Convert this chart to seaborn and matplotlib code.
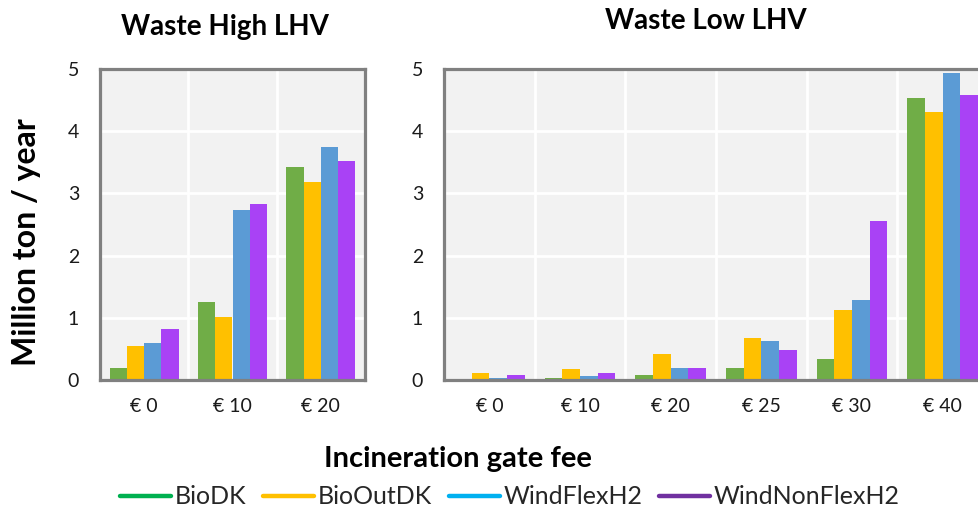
import numpy as np
import pandas as pd
import matplotlib
matplotlib.use("Agg")
import matplotlib.pyplot as plt
from matplotlib.lines import Line2D
from matplotlib.ticker import FixedLocator
import seaborn as sns

# ---------------- data ----------------
scenarios = ["BioDK", "BioOutDK", "WindFlexH2", "WindNonFlexH2"]

high_fees = ["€ 0", "€ 10", "€ 20"]
high_biodk = [0.20, 1.26, 3.42]
high_biooutdk = [0.55, 1.01, 3.18]
high_windflex = [0.60, 2.73, 3.74]
high_windnonflex = [0.82, 2.83, 3.52]

low_fees = ["€ 0", "€ 10", "€ 20", "€ 25", "€ 30", "€ 40"]
low_biodk = [0.00, 0.03, 0.08, 0.20, 0.33, 4.53]
low_biooutdk = [0.11, 0.18, 0.42, 0.68, 1.12, 4.31]
low_windflex = [0.03, 0.06, 0.20, 0.63, 1.29, 4.93]
low_windnonflex = [0.08, 0.11, 0.20, 0.48, 2.56, 4.59]

yticks = [0, 1, 2, 3, 4, 5]

bar_colors = ["#70AD47", "#FFC000", "#5B9BD5", "#A942F5"]
legend_colors = ["#00B050", "#FFC000", "#00B0F0", "#7030A0"]


def long_df(fees, series):
    rows = []
    for name, vals in zip(scenarios, series):
        for f, v in zip(fees, vals):
            rows.append({"fee": f, "scenario": name, "value": v})
    return pd.DataFrame(rows)


df_high = long_df(high_fees, [high_biodk, high_biooutdk, high_windflex, high_windnonflex])
df_low = long_df(low_fees, [low_biodk, low_biooutdk, low_windflex, low_windnonflex])

sns.set_theme(style="white")
plt.rcParams["font.family"] = ["Lato", "DejaVu Sans"]

W, H = 979, 513
fig = plt.figure(figsize=(W / 100, H / 100), dpi=100)


def px_axes(x0, x1, ytop, ybot):
    return fig.add_axes([x0 / W, (H - ybot) / H, (x1 - x0) / W, (ybot - ytop) / H])


ax1 = px_axes(100, 365, 69, 380)
ax2 = px_axes(444, 988, 69, 380)

for ax, df, fees in [(ax1, df_high, high_fees), (ax2, df_low, low_fees)]:
    sns.barplot(data=df, x="fee", y="value", hue="scenario", hue_order=scenarios,
                order=fees, palette=bar_colors, width=0.78, ax=ax, legend=False,
                edgecolor="none", linewidth=0, saturation=1)
    ax.set_facecolor("#F2F2F2")
    ax.set_ylim(0, 5)
    ax.set_xlim(-0.5, len(fees) - 0.5)
    ax.set_yticks(yticks)
    ax.set_yticklabels([str(t) for t in yticks])
    ax.xaxis.set_minor_locator(FixedLocator(np.arange(0.5, len(fees) - 0.5, 1.0)))
    ax.grid(True, axis="y", which="major", color="white", linewidth=2.0)
    ax.grid(True, axis="x", which="minor", color="white", linewidth=2.0)
    ax.grid(False, axis="x", which="major")
    ax.set_axisbelow(True)
    ax.set_xlabel("")
    ax.set_ylabel("")
    ax.tick_params(axis="both", which="both", length=0)
    ax.tick_params(axis="y", pad=15, labelsize=14, labelcolor="#1a1a1a")
    ax.tick_params(axis="x", pad=13, labelsize=14, labelcolor="#1a1a1a")
    for s in ax.spines.values():
        s.set_visible(True)
        s.set_color("#808080")
        s.set_linewidth(2.3)

fig.text(225 / W, 1 - 27 / H, "Waste High LHV", ha="center", va="center",
         fontsize=20, fontweight="bold", color="black")
fig.text(706 / W, 1 - 21 / H, "Waste Low LHV", ha="center", va="center",
         fontsize=20, fontweight="bold", color="black")
fig.text(27 / W, 1 - 242 / H, "Million ton / year", ha="center", va="center",
         rotation=90, fontsize=23, fontweight="bold", color="black")
fig.text(458 / W, 1 - 459 / H, "Incineration gate fee", ha="center", va="center",
         fontsize=21, fontweight="bold", color="black")

handles = [Line2D([0], [0], color=c, linewidth=3.2) for c in legend_colors]
fig.legend(handles, scenarios, loc="center", bbox_to_anchor=(510 / W, 1 - 497 / H),
           ncol=4, frameon=False, handlelength=2.05, handletextpad=0.15,
           columnspacing=0.65,
           prop={"family": ["Lato", "DejaVu Sans"], "size": 18})

fig.savefig("out.png", dpi=100)
